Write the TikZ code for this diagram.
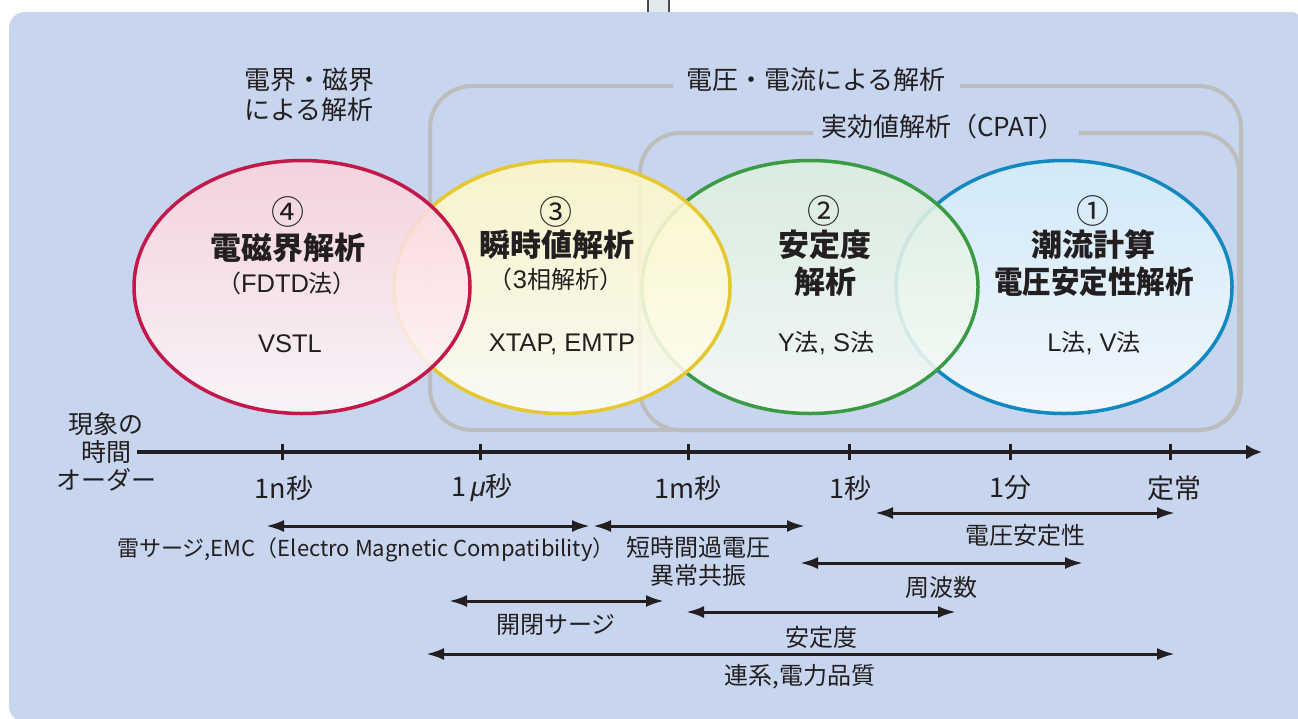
\documentclass[tikz,border=0pt]{standalone}
\usepackage{fontspec}
\setmainfont{Noto Sans CJK JP}
\newfontfamily\lat{Liberation Sans}
\usetikzlibrary{arrows.meta,shapes.geometric}
\definecolor{bgblue}{HTML}{C7D5EE}
\definecolor{topbox}{HTML}{E2EAEE}
\definecolor{topedge}{HTML}{4A4A4A}
\definecolor{txt}{HTML}{231F20}
\definecolor{gboxc}{HTML}{BDBDBD}
\definecolor{cred}{HTML}{C2184A}
\definecolor{fredA}{HTML}{FAD2DC}
\definecolor{fredB}{HTML}{FFF8FA}
\definecolor{cyel}{HTML}{E5C830}
\definecolor{fyelA}{HTML}{FFF8C6}
\definecolor{fyelB}{HTML}{FFFEF4}
\definecolor{cgrn}{HTML}{3B9B45}
\definecolor{fgrnA}{HTML}{DCEFDE}
\definecolor{fgrnB}{HTML}{F9FCF8}
\definecolor{cblu}{HTML}{1189C0}
\definecolor{fbluA}{HTML}{D3ECFA}
\definecolor{fbluB}{HTML}{F8FCFF}
\newcommand\myfs[1]{\fontsize{#1}{#1}\selectfont}
\newcommand\latb[1]{{\lat\fontsize{25.5}{25.5}\selectfont#1}}
\tikzset{
  gbox/.style={draw=gboxc, line width=4pt},
  ell/.style={ellipse, minimum width=336pt, minimum height=253pt, inner sep=0pt, line width=3.5pt, fill opacity=0.88},
  lbl/.style={text=txt, inner sep=0pt, align=center},
  ttl/.style={lbl, font={\myfs{31}\bfseries}},
  num/.style={lbl, font={\myfs{33}}},
  sub/.style={lbl, font={\myfs{24}}},
  latsub/.style={lbl, font={\myfs{25.5}\lat}},
  tick/.style={lbl, font={\myfs{27}}},
  alab/.style={lbl, font={\myfs{24}}},
  darr/.style={{Latex[length=18pt,width=12pt]}-{Latex[length=18pt,width=12pt]}, line width=3pt, draw=txt},
  axisline/.style={-{Latex[length=16pt,width=15pt]}, line width=3.5pt, draw=txt},
  tickmark/.style={line width=3pt, draw=txt}
}
\begin{document}
\begin{tikzpicture}[x=1pt,y=-1pt]
\useasboundingbox (0,0) rectangle (1298,718);
% background
\filldraw[fill=topbox, draw=topedge, line width=1.2pt] (648,-3) rectangle (669,14);
\fill[bgblue, rounded corners=16pt] (9,12) rectangle (1306,722);
\fill[bgblue] (1100,600) rectangle (1310,730);
% grey grouping boxes
\draw[gbox, rounded corners=42pt] (673,86) -- (430,86) -- (430,430) -- (1241,430) -- (1241,86) -- (960,86);
\draw[gbox, rounded corners=40pt] (813,133) -- (640,133) -- (640,430) -- (1239,430) -- (1239,133) -- (1079,133);
\node[lbl, font={\myfs{26}}] (lv) at (816,80) {電圧・電流による解析};
\node[lbl, font={\myfs{26}}] (lc) at (943,127) {実効値解析（CPAT）};
\node[lbl, font={\fontsize{26}{30}\selectfont}] (lf) at (309,95) {電界・磁界\\による解析};
% ellipses
\node[ell, draw=cblu, top color=fbluA, bottom color=fbluB] (e1) at (1064,287) {};
\node[ell, draw=cgrn, top color=fgrnA, bottom color=fgrnB] (e2) at (810,287) {};
\node[ell, draw=cyel, top color=fyelA, bottom color=fyelB] (e3) at (562,287) {};
\node[ell, draw=cred, top color=fredA, bottom color=fredB] (e4) at (302,287) {};
% ellipse texts
\node[num] (n4) at (288,212) {④};
\node[ttl] (t4) at (288,248) {電磁界解析};
\node[sub] (s4) at (287,283) {（\latb{FDTD}法）};
\node[latsub] (v4) at (290,344) {VSTL};
\node[num] (n3) at (556,212) {③};
\node[ttl] (t3) at (557,245) {瞬時値解析};
\node[sub] (s3) at (556,279) {（\latb{3}相解析）};
\node[latsub] (v3) at (562,344) {XTAP, EMTP};
\node[num] (n2) at (824,211) {②};
\node[ttl] (t2) at (825,245) {安定度};
\node[ttl] (s2) at (825,282) {解析};
\node[sub] (v2) at (826,343) {\latb{Y}法\latb{, S}法};
\node[num] (n1) at (1093,211) {①};
\node[ttl] (t1) at (1093,245) {潮流計算};
\node[ttl] (s1) at (1094,282) {\scalebox{0.92}[1]{電圧安定性解析}};
\node[sub] (v1) at (1094,343) {\latb{L}法\latb{, V}法};
% time axis
\node[lbl, font={\fontsize{25}{28}\selectfont}] (ylab) at (106,452) {現象の\\時間\\オーダー};
\coordinate (ax0) at (137,452);
\coordinate (ax1) at (1262,452);
\draw[axisline] (ax0) -- (ax1);
\foreach \x/\name in {282/ns,480/us,688/ms,849/s,1010/mn,1170/st}{
  \coordinate (\name) at (\x,452);
  \draw[tickmark] ([yshift=-8pt]\name) -- ([yshift=8pt]\name);
}
\node[tick] (tns) at (284,488) {1n秒};
\node[tick] (tus) at (482,488) {1\,{\lat\itshape μ}秒};
\node[tick] (tms) at (688,488) {1m秒};
\node[tick] (ts) at (850,488) {1秒};
\node[tick] (tmn) at (1010,488) {1分};
\node[tick] (tst) at (1174,488) {定常};
% ranges
\coordinate (a1l) at (266,526); \coordinate (a1r) at (590,526);
\coordinate (a2l) at (593,526); \coordinate (a2r) at (805,526);
\coordinate (a3l) at (875,513); \coordinate (a3r) at (1175,513);
\coordinate (a4l) at (800,563); \coordinate (a4r) at (1083,563);
\coordinate (a5l) at (449,601); \coordinate (a5r) at (664,601);
\coordinate (a6l) at (686,612); \coordinate (a6r) at (956,612);
\coordinate (a7l) at (426,654); \coordinate (a7r) at (1175,654);
\draw[darr] (a1l) -- (a1r);
\draw[darr] (a2l) -- (a2r);
\draw[darr] (a3l) -- (a3r);
\draw[darr] (a4l) -- (a4r);
\draw[darr] (a5l) -- (a5r);
\draw[darr] (a6l) -- (a6r);
\draw[darr] (a7l) -- (a7r);
\node[alab, font={\myfs{22}}] (l1) at (366,550) {雷サージ,EMC（Electro Magnetic Compatibility）};
\node[alab, font={\fontsize{24}{28}\selectfont}] (l2) at (698,561) {短時間過電圧\\異常共振};
\node[alab] (l3) at (1025,535) {電圧安定性};
\node[alab] (l4) at (941,587) {周波数};
\node[alab] (l5) at (556,625) {開閉サージ};
\node[alab] (l6) at (821,637) {安定度};
\node[alab] (l7) at (800,677) {連系,電力品質};
\end{tikzpicture}
\end{document}
